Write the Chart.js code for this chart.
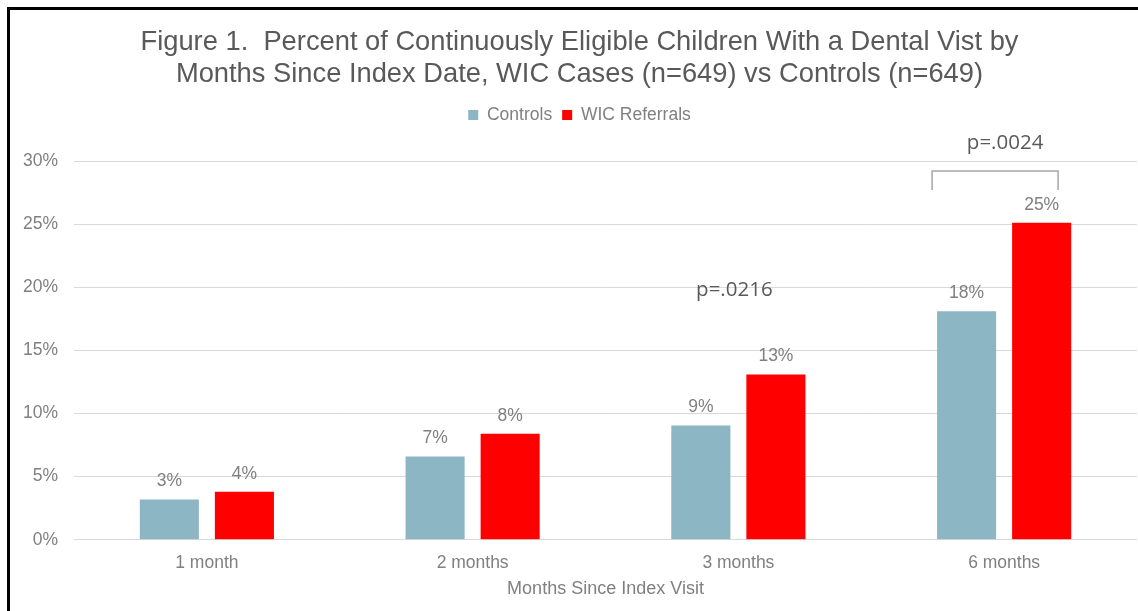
<!DOCTYPE html>
<html>
<head>
<meta charset="utf-8">
<title>Figure 1</title>
<script src="https://cdn.jsdelivr.net/npm/chart.js@4.4.1/dist/chart.umd.min.js"></script>
<style>
  html, body { margin: 0; padding: 0; background: #fff; overflow: hidden; }
  #wrap { position: relative; width: 1138px; height: 611px; overflow: hidden; }
  #chart { position: absolute; left: 0; top: 0; }
  #frame {
    position: absolute; left: 7px; top: 7px; width: 1128px; height: 601px;
    border-top: 3px solid #000; border-left: 3px solid #000; pointer-events: none;
  }
</style>
</head>
<body>
<div id="wrap">
  <canvas id="chart" width="1138" height="611"></canvas>
  <div id="frame"></div>
</div>
<script>
// data
const categories = ["1 month", "2 months", "3 months", "6 months"];
const controls = [3.2, 6.6, 9.05, 18.1];
const wicReferrals = [3.8, 8.4, 13.1, 25.1];
const yTicks = [0, 5, 10, 15, 20, 25, 30];

// p-value notes: category and height (percent)
const pLabels = ["p=.0216", "p=.0024"];
const pCategories = ["3 months", "6 months"];
const pHeights = [19.8, 31.4];

const GREY = "#808080";
const DARK = "#595959";
const FONT = "'Liberation Sans', Arial, sans-serif";

Chart.defaults.font.family = FONT;
Chart.defaults.color = GREY;

const notesPlugin = {
  id: "notes",
  afterDatasetsDraw(chart) {
    const ctx = chart.ctx;
    const xs = chart.scales.x;
    const ys = chart.scales.y;
    ctx.save();

    // value labels above bars
    ctx.font = "17.5px " + FONT;
    ctx.fillStyle = GREY;
    ctx.textAlign = "center";
    ctx.textBaseline = "middle";
    chart.data.datasets.forEach((ds, i) => {
      chart.getDatasetMeta(i).data.forEach((bar, j) => {
        ctx.fillText(Math.round(ds.data[j]) + "%", bar.x, bar.y - 18);
      });
    });

    // p-values
    ctx.font = "20.5px 'Open Sans', sans-serif";
    ctx.fillStyle = DARK;
    pLabels.forEach((t, k) => {
      const x = xs.getPixelForValue(categories.indexOf(pCategories[k]));
      ctx.fillText(t, x + (k === 0 ? -4 : 1), ys.getPixelForValue(pHeights[k]));
    });

    // bracket over 6 months
    const i6 = categories.indexOf("6 months");
    const x0 = xs.getPixelForValue(i6 - 0.271);
    const x1 = xs.getPixelForValue(i6 + 0.203);
    const yTop = ys.getPixelForValue(29.2);
    const yEnd = ys.getPixelForValue(27.7);
    ctx.strokeStyle = "#a6a6a6";
    ctx.lineWidth = 1.5;
    ctx.beginPath();
    ctx.moveTo(x0, yEnd);
    ctx.lineTo(x0, yTop);
    ctx.lineTo(x1, yTop);
    ctx.lineTo(x1, yEnd);
    ctx.stroke();

    ctx.restore();
  },
};

const init = function () {
  new Chart(document.getElementById("chart"), {
    type: "bar",
    data: {
      labels: categories,
      datasets: [
        {
          label: "Controls",
          data: controls,
          backgroundColor: "#8db6c4",
          categoryPercentage: 0.565,
          barPercentage: 0.787,
        },
        {
          label: "WIC Referrals",
          data: wicReferrals,
          backgroundColor: "#ff0000",
          categoryPercentage: 0.565,
          barPercentage: 0.787,
        },
      ],
    },
    options: {
      responsive: false,
      animation: false,
      layout: { padding: { left: 22, right: 1, top: 0, bottom: 11.2 } },
      plugins: {
        title: {
          display: true,
          text: [
            "Figure 1.  Percent of Continuously Eligible Children With a Dental Vist by",
            "Months Since Index Date, WIC Cases (n=649) vs Controls (n=649)",
          ],
          color: DARK,
          font: { size: 27.3, weight: "normal", lineHeight: 32 / 27.3 },
          padding: { top: 26, bottom: 6.25 },
        },
        legend: {
          position: "top",
          labels: {
            boxWidth: 10,
            boxHeight: 10,
            padding: 10,
            color: GREY,
            font: { size: 17.5 },
          },
        },
        tooltip: { enabled: false },
      },
      scales: {
        x: {
          afterFit: (s) => { s.height = 60; },
          grid: { display: false, drawTicks: false },
          border: { display: false },
          ticks: { padding: 12.5, color: GREY, font: { size: 17.5 } },
          title: {
            display: true,
            text: "Months Since Index Visit",
            color: GREY,
            font: { size: 18 },
            padding: { top: 5.7, bottom: 0 },
          },
        },
        spacer: {
          type: "category",
          position: "top",
          labels: [""],
          grid: { display: false, drawTicks: false },
          border: { display: false },
          ticks: { display: false },
          afterFit: (s) => { s.height = 27.25; },
        },
        y: {
          min: yTicks[0],
          max: yTicks[yTicks.length - 1],
          afterFit: (s) => { s.width = 52; },
          afterBuildTicks: (s) => { s.ticks = yTicks.map((v) => ({ value: v })); },
          grid: { color: "#d9d9d9", lineWidth: 1, drawTicks: false },
          border: { display: false },
          ticks: {
            padding: 16,
            color: GREY,
            font: { size: 17.5 },
            callback: (v) => v + "%",
          },
        },
      },
    },
    plugins: [notesPlugin],
  });
};

if (document.readyState !== "loading") {
  init();
} else {
  document.addEventListener("DOMContentLoaded", init);
}
</script>
</body>
</html>
